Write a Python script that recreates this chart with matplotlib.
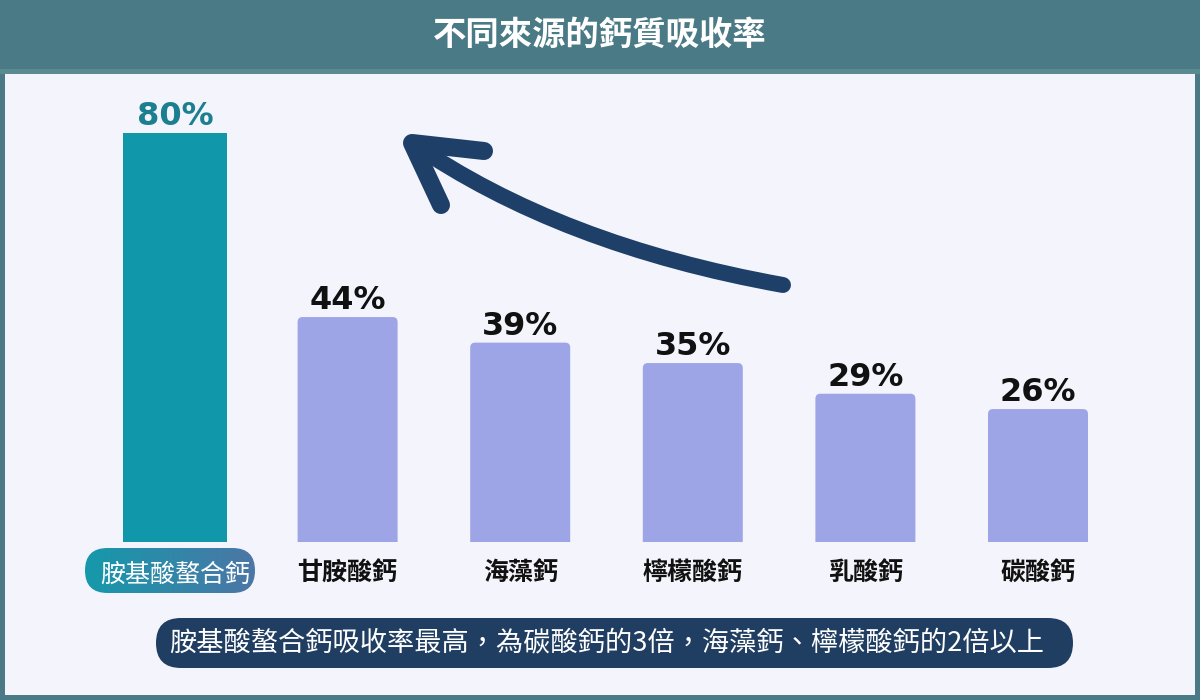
import numpy as np
import matplotlib
matplotlib.use("Agg")
import matplotlib.pyplot as plt
from matplotlib.patches import Rectangle, FancyBboxPatch, PathPatch
from matplotlib.path import Path
from matplotlib.colors import LinearSegmentedColormap

plt.rcParams['font.family'] = ['Noto Sans CJK TC', 'DejaVu Sans']

# ---- data ----
title = "不同來源的鈣質吸收率"
categories = ["胺基酸螯合鈣", "甘胺酸鈣", "海藻鈣", "檸檬酸鈣", "乳酸鈣", "碳酸鈣"]
values = [80, 44, 39, 35, 29, 26]
caption = "胺基酸螯合鈣吸收率最高，為碳酸鈣的3倍，海藻鈣、檸檬酸鈣的2倍以上"

W, H = 1200, 700
fig = plt.figure(figsize=(W / 100, H / 100), dpi=100)
fig.patch.set_facecolor('#4a7a85')

# ---- background / decoration axes (pixel coordinates) ----
bg = fig.add_axes([0, 0, 1, 1])
bg.set_axis_off()
bg.add_patch(Rectangle((0, 0), W, 69, fc='#4a7a85', ec='none'))
bg.add_patch(Rectangle((0, 69), W, 5, fc='#5c8a93', ec='none'))
bg.add_patch(Rectangle((5, 74), W - 10, 621, fc='#f4f4fc', ec='none'))
bg.text(600, 35, title, color='white', fontsize=24, fontweight='bold',
        ha='center', va='center')

# gradient pill behind first category label
pill = FancyBboxPatch((85, 548), 170, 45, boxstyle="round,pad=0,rounding_size=22.5",
                      fc='none', ec='none')
bg.add_patch(pill)
cmap = LinearSegmentedColormap.from_list('g', ['#1599ab', '#4c76a6'])
im = bg.imshow(np.linspace(0, 1, 256).reshape(1, -1), cmap=cmap,
               extent=(85, 255, 593, 548), aspect='auto', zorder=1)
im.set_clip_path(pill)

# caption pill
bg.add_patch(FancyBboxPatch((156, 618), 917, 50, boxstyle="round,pad=0,rounding_size=25",
                            fc='#1f3e62', ec='none'))
bg.text(607, 643, caption, color='white', fontsize=19.6, ha='center', va='center')

# curved arrow
arrow_col = '#1e4068'
verts = [(783, 285), (560, 245), (412, 143)]
bg.add_patch(PathPatch(Path(verts, [Path.MOVETO, Path.CURVE3, Path.CURVE3]),
                       fc='none', ec=arrow_col, lw=11.5, capstyle='round'))
bg.plot([484, 412, 441], [151, 143, 205], color=arrow_col, lw=13,
        solid_capstyle='round', solid_joinstyle='round')

bg.set_xlim(0, W)
bg.set_ylim(H, 0)

# ---- bar axes ----
px_x = 172.6
bottom_px, top_px = 542, 133
ax = fig.add_axes([0, (H - bottom_px) / H, 1, (bottom_px - top_px) / H])
ax.patch.set_alpha(0)
ax.set_xlim(-175 / px_x, (W - 175) / px_x)
ax.set_ylim(0, 80)
px_y = (bottom_px - top_px) / 80

x = np.arange(len(categories))
widths = [104 / px_x] + [100 / px_x] * (len(categories) - 1)
colors = ['#1197aa'] + ['#9ea5e7'] * (len(categories) - 1)
bars = ax.bar(x, values, width=widths, color=colors)

# rounded top corners for the lavender bars
r = 5 / px_x
for rect in list(bars)[1:]:
    x0, w, h = rect.get_x(), rect.get_width(), rect.get_height()
    rect.set_visible(False)
    ax.add_patch(FancyBboxPatch((x0, -3), w, h + 3,
                                boxstyle=f"round,pad=0,rounding_size={r}",
                                mutation_aspect=px_x / px_y,
                                fc=rect.get_facecolor(), ec='none'))

for i, v in enumerate(values):
    ax.annotate(f"{v}%", (x[i], v), xytext=(0, 8), textcoords='offset pixels',
                ha='center', va='baseline', fontsize=23, fontweight='bold',
                family='DejaVu Sans', color='#1b7f8f' if i == 0 else '#111111')

ax.set_xticks(x, categories)
ax.set_yticks([])
ax.tick_params(axis='x', length=0, pad=14)
for s in ax.spines.values():
    s.set_visible(False)
for i, lab in enumerate(ax.get_xticklabels()):
    lab.set_fontsize(18)
    if i == 0:
        lab.set_color('white')
        lab.set_fontweight('normal')
    else:
        lab.set_color('#111111')
        lab.set_fontweight('bold')

fig.savefig("out.png", dpi=100, facecolor=fig.get_facecolor())
